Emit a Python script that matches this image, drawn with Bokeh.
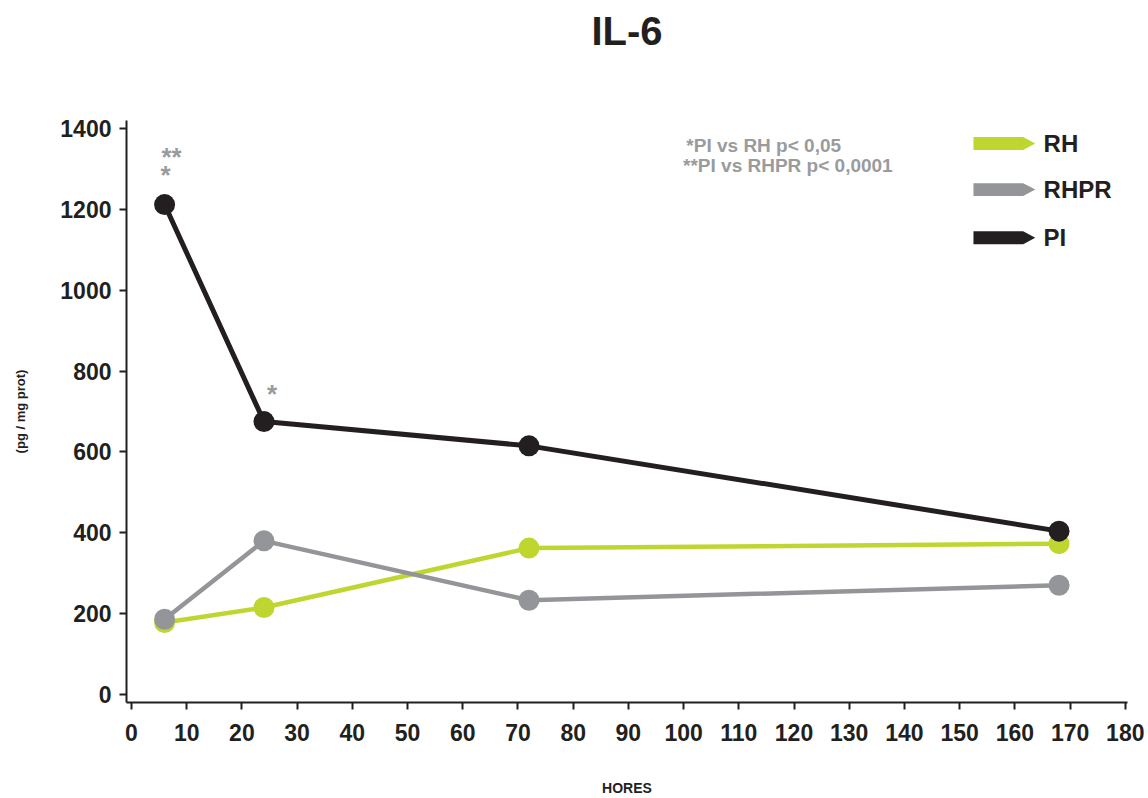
from bokeh.plotting import figure
from bokeh.models import Range1d, FixedTicker, Label, LinearAxis
from bokeh.core.properties import value
from bokeh.embed import file_html
from bokeh.resources import INLINE

# IL-6 concentration (pg / mg prot) over time (hours)
hours = [6, 24, 72, 168]
rh = [178, 215, 362, 373]
rhpr = [186, 380, 233, 270]
pi = [1212, 675, 615, 404]

series_names = ["RH", "RHPR", "PI"]
series_colors = ["#bfd630", "#939598", "#231f20"]

x_ticks = list(range(0, 181, 10))
y_ticks = list(range(0, 1401, 200))

FONT = "Liberation Sans"
DARK = "#231f20"
GREY_TXT = "#9a9b9d"

p = figure(width=1148, height=798, output_backend="svg", toolbar_location=None,
           x_range=Range1d(-0.9, 180.4), y_range=Range1d(-20, 1420),
           min_border_left=126, min_border_right=21, min_border_top=120,
           min_border_bottom=96)

p.outline_line_color = None
p.xgrid.grid_line_color = None
p.ygrid.grid_line_color = None

for ax in (p.xaxis[0], p.yaxis[0]):
    ax.axis_line_color = DARK
    ax.axis_line_width = 2
    ax.major_tick_line_color = DARK
    ax.major_tick_line_width = 2
    ax.major_tick_in = 0
    ax.major_tick_out = 7
    ax.minor_tick_line_color = None
    ax.major_label_text_font = FONT
    ax.major_label_text_font_size = "23px"
    ax.major_label_text_font_style = "bold"
    ax.major_label_text_color = DARK
    ax.axis_label_text_font = FONT
    ax.axis_label_text_font_style = "bold"
    ax.axis_label_text_color = DARK

p.xaxis.ticker = FixedTicker(ticks=x_ticks)
p.yaxis.ticker = FixedTicker(ticks=y_ticks)
p.xaxis.major_label_standoff = 14
p.yaxis.major_label_standoff = 8
p.xaxis.axis_label = "HORES"
p.xaxis.axis_label_text_font_size = "14px"
p.xaxis.axis_label_standoff = 36


def label_only_axis(text, size, standoff, align):
    """An axis with no line, ticks or tick labels: only its label is drawn."""
    ax = LinearAxis(axis_label=text, ticker=FixedTicker(ticks=[]))
    ax.axis_line_color = None
    ax.major_tick_line_color = None
    ax.minor_tick_line_color = None
    ax.major_label_text_font_size = "0px"
    ax.axis_label_standoff = standoff
    ax.axis_label_text_font = FONT
    ax.axis_label_text_font_size = size
    ax.axis_label_text_font_style = "bold"
    ax.axis_label_text_color = DARK
    ax.axis_label_text_align = align
    return ax


# chart title above the plot and the unit label on the left
p.add_layout(label_only_axis("IL-6", "40px", 68, "right"), "above")
p.add_layout(label_only_axis("(pg / mg prot)", "13px", 30, "left"), "left")

# series lines with circular markers
for name, vals, color in zip(series_names, [rh, rhpr, pi], series_colors):
    lw = 5 if name == "PI" else 4.5
    p.line(hours, vals, line_color=color, line_width=lw)
    p.scatter(hours, vals, size=21, fill_color=color, line_color=None)

# significance marks
p.text(x=[hours[0]], y=[pi[0]], text=["**"], x_offset=7, y_offset=-48,
       text_font=value(FONT), text_font_size="26px", text_font_style="bold",
       text_color=GREY_TXT, text_align="center", text_baseline="alphabetic")
p.text(x=[hours[0], hours[1]], y=[pi[0], pi[1]], text=["*", "*"], x_offset=[1, 8],
       y_offset=[-30, -28], text_font=value(FONT), text_font_size="26px",
       text_font_style="bold", text_color=GREY_TXT, text_align="center",
       text_baseline="alphabetic")

for txt, xx, yy in [("*PI vs RH p< 0,05", 100.5, 1357),
                    ("**PI vs RHPR p< 0,0001", 99.9, 1309)]:
    p.add_layout(Label(x=xx, y=yy, text=txt, text_font=FONT, text_font_size="19px",
                       text_font_style="bold", text_color=GREY_TXT,
                       text_baseline="middle", text_align="left"))

# arrow-shaped legend keys
key_y = [1363, 1249, 1130]
half_h = 16
for name, color, ky in zip(series_names, series_colors, key_y):
    xs = [152.5, 161.5, 163.7, 161.5, 152.5]
    ys = [ky - half_h, ky - half_h, ky, ky + half_h, ky + half_h]
    p.patch(xs, ys, fill_color=color, line_color=None)
    p.add_layout(Label(x=165.2, y=ky, text=name, text_font=FONT, text_font_size="24px",
                       text_font_style="bold", text_color=DARK,
                       text_baseline="middle", text_align="left"))

open("out.html", "w").write(file_html(p, INLINE))
